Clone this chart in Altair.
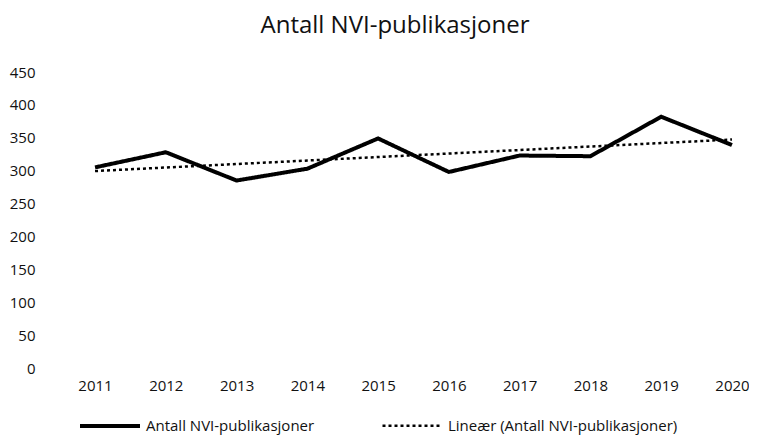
import altair as alt
import pandas as pd

years = [2011, 2012, 2013, 2014, 2015, 2016, 2017, 2018, 2019, 2020]
values = [305, 328, 285, 303, 349, 298, 323, 322, 382, 339]
series_main = "Antall NVI-publikasjoner"
series_trend = "Lineær (Antall NVI-publikasjoner)"
y_ticks = [0, 50, 100, 150, 200, 250, 300, 350, 400, 450]

df = pd.DataFrame({"year": years, "value": values})

FONT = "Open Sans"
TXT = "#111111"
x = alt.X("year:Q", scale=alt.Scale(domain=[2010.929, 2020.17], nice=False, zero=False),
          axis=alt.Axis(values=years, format="d", title=None, grid=False, domain=False,
                        ticks=False, labelPadding=10, labelFontSize=15, labelFont=FONT,
                        labelColor=TXT))
y = alt.Y("value:Q", scale=alt.Scale(domain=[0, 450], nice=False),
          axis=alt.Axis(values=y_ticks, title=None, grid=False, domain=False, ticks=False,
                        labelPadding=55, labelFontSize=15, labelFont=FONT, labelColor=TXT))

dash = alt.StrokeDash("series:N",
                      scale=alt.Scale(domain=[series_main, series_trend], range=[[1, 0], [3, 3]]),
                      legend=alt.Legend(orient="none", legendX=-12, legendY=322, direction="horizontal",
                                        title=None, labelFont=FONT, labelFontSize=15,
                                        labelColor=TXT, symbolType="stroke", labelLimit=400,
                                        symbolSize=3600, symbolStrokeColor="black",
                                        columnPadding=62, labelOffset=4))
width_enc = alt.StrokeWidth("series:N",
                            scale=alt.Scale(domain=[series_main, series_trend], range=[4, 2.5]),
                            legend=None)

main = alt.Chart(df).transform_calculate(series=f"'{series_main}'").mark_line(
    color="black", strokeCap="butt", strokeJoin="miter").encode(
    x=x, y=y, strokeDash=dash, strokeWidth=width_enc)

trend = alt.Chart(df).transform_regression("year", "value").transform_calculate(
    series=f"'{series_trend}'").mark_line(color="black", strokeCap="butt").encode(
    x=x, y=y, strokeDash=dash, strokeWidth=width_enc)

chart = alt.layer(main, trend).properties(
    width=654, height=296,
    title=alt.TitleParams("Antall NVI-publikasjoner", fontSize=24, font=FONT, fontWeight="normal",
                          color=TXT, anchor="middle", dx=-22, offset=27),
    padding={"left": 82, "top": 64, "right": 5, "bottom": 69},
    autosize=alt.AutoSizeParams(type="none"),
).configure_view(stroke=None)

chart.save("out.html", embed_options={"renderer": "svg", "actions": False})
